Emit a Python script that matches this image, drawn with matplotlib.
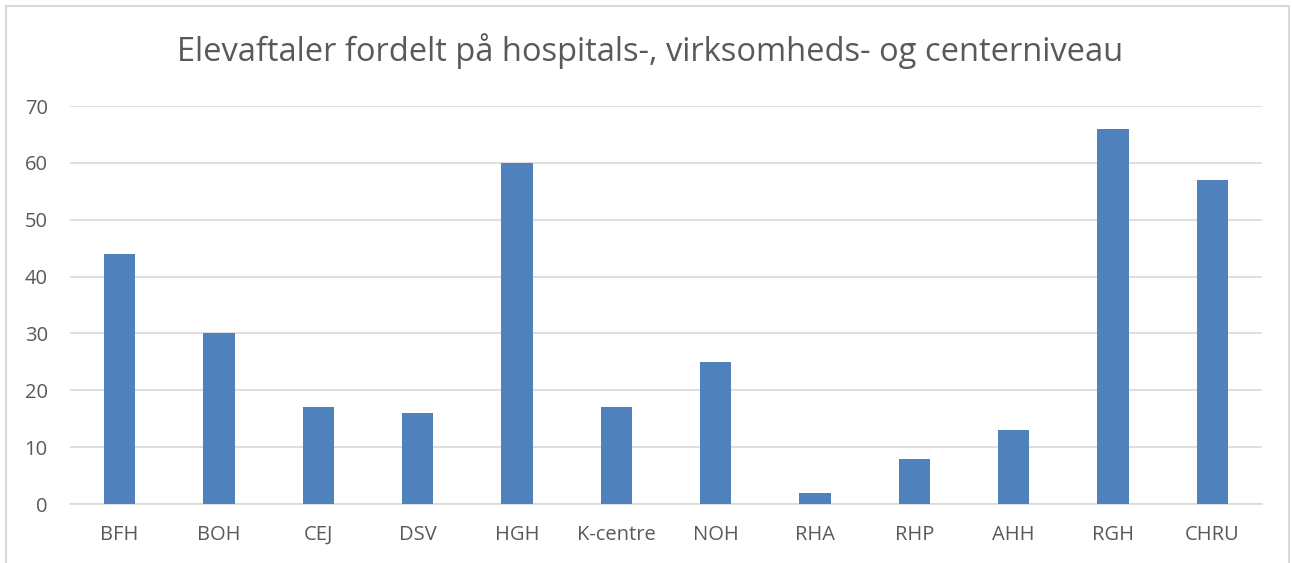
import matplotlib.pyplot as plt
from matplotlib.patches import Rectangle

# Data
categories = ["BFH", "BOH", "CEJ", "DSV", "HGH", "K-centre", "NOH", "RHA", "RHP", "AHH", "RGH", "CHRU"]
values = [44, 30, 17, 16, 60, 17, 25, 2, 8, 13, 66, 57]
yticks = [0, 10, 20, 30, 40, 50, 60, 70]

W, H = 1292, 563
fig = plt.figure(figsize=(W / 100, H / 100), dpi=100)
plt.rcParams['font.family'] = ['Open Sans', 'DejaVu Sans']

# chart area border (Excel style)
fig.patches.append(Rectangle((5.5 / W, -0.1), (1289 - 5.5) / W, 1.1 - 6.5 / H,
                             transform=fig.transFigure, fill=False,
                             edgecolor="#D9D9D9", linewidth=1.5))

ax = fig.add_axes([70 / W, 1 - 504 / H, (1262 - 70) / W, (504 - 106) / H])
x = range(len(categories))
ax.bar(x, values, width=0.315, color="#4F81BD", zorder=3)

ax.set_xlim(-0.5, len(categories) - 0.5)
ax.set_ylim(0, 70)
ax.set_yticks(yticks)
ax.set_xticks(list(x))
ax.set_xticklabels(categories)
ax.grid(axis="y", color="#D9D9D9", linewidth=1.2, zorder=0)
for s in ["top", "right", "left"]:
    ax.spines[s].set_visible(False)
ax.spines["bottom"].set_color("#D9D9D9")
ax.spines["bottom"].set_linewidth(1.2)
ax.tick_params(axis="both", length=0, labelsize=14.5, colors="#595959")
ax.tick_params(axis="x", pad=15)
ax.tick_params(axis="y", pad=16)

fig.text(650 / W, 1 - 51 / H, "Elevaftaler fordelt på hospitals-, virksomheds- og centerniveau",
         ha="center", va="center", fontsize=23.5, color="#595959")

fig.savefig("out.png", dpi=100)
